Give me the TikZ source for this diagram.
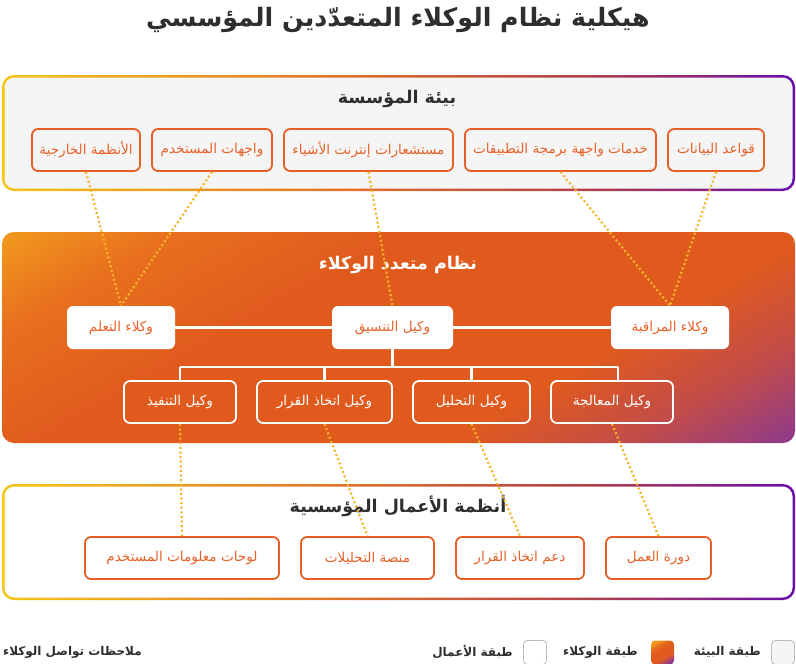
\documentclass[tikz,border=0pt]{standalone}
\usepackage{fontspec}
\newfontfamily\arabicfont[Script=Arabic]{DejaVu Sans}
\TeXXeTstate=1
\usetikzlibrary{calc}
\definecolor{ttl}{HTML}{2E2E2E}
\definecolor{org}{HTML}{E8622A}
\definecolor{bord}{HTML}{E85F26}
\definecolor{dotc}{HTML}{F5B52A}
\definecolor{panelbg}{HTML}{F5F5F5}
\definecolor{gyel}{HTML}{F5C518}
\definecolor{gorg}{HTML}{E0702A}
\definecolor{gred}{HTML}{B0404A}
\definecolor{gpur}{HTML}{6A0DAD}
\definecolor{ayel}{HTML}{F29A1E}
\definecolor{aorg2}{HTML}{E8701E}
\definecolor{aorg}{HTML}{E05A1E}
\definecolor{ared}{HTML}{C24C48}
\definecolor{apur}{HTML}{8C3A8E}
\definecolor{legbd}{HTML}{BBBBBB}
\pgfdeclarehorizontalshading{bordergrad}{100bp}{color(0bp)=(gyel); color(25bp)=(gyel); color(47bp)=(gorg); color(62bp)=(gred); color(75bp)=(gpur); color(100bp)=(gpur)}
\pgfdeclareverticalshading{agentgrad}{100bp}{color(0bp)=(apur); color(25bp)=(apur); color(32.5bp)=(ared); color(40bp)=(aorg); color(57.5bp)=(aorg); color(67.5bp)=(aorg2); color(75bp)=(ayel); color(100bp)=(ayel)}
\newcommand\artxt[1]{{\arabicfont\beginR #1\endR}}
\newcommand\arbold[1]{{\arabicfont\bfseries\beginR #1\endR}}
\tikzset{
  envbox/.style={draw=bord, line width=1.8pt, rounded corners=6pt, inner sep=0pt, text=org, font=\fontsize{13.6}{16}\selectfont},
  bizbox/.style={envbox, fill=white},
  agtop/.style={fill=white, rounded corners=6pt, inner sep=0pt, text=org, font=\fontsize{13.6}{16}\selectfont},
  agbot/.style={draw=white, line width=1.8pt, rounded corners=6pt, inner sep=0pt, text=white, font=\fontsize{13.6}{16}\selectfont},
  treeline/.style={draw=white, line width=2.5pt},
  dotline/.style={draw=dotc, line width=2.2pt, line cap=butt, dash pattern=on 2pt off 2.6pt},
  paneltitle/.style={font=\fontsize{17.5}{20}\selectfont, text=ttl, inner sep=0pt},
  legtext/.style={font=\fontsize{12}{14}\selectfont, text=ttl, inner sep=0pt, anchor=east},
  legbox/.style={draw=legbd, line width=0.8pt, rounded corners=4pt},
}
\begin{document}
\begin{tikzpicture}[x=1pt, y=-1pt]
\useasboundingbox (0,0) rectangle (796,664);
\fill[white] (0,0) rectangle (796,664);
% title
\node[font=\fontsize{25.3}{30}\selectfont, text=ttl, inner sep=0pt] (title) at (398,20) {\arbold{هيكلية نظام الوكلاء المتعدّدين المؤسسي}};
% environment panel
\shade[shading=bordergrad, rounded corners=12pt] (2,75) rectangle (795,191);
\fill[panelbg, rounded corners=10pt] (4.5,77.5) rectangle (792.5,188.5);
\node[paneltitle] (envtitle) at (397,99) {\arbold{بيئة المؤسسة}};
% agent panel
\begin{scope}
\clip[rounded corners=12pt] (2,232) rectangle (795,443);
\begin{scope}[transform canvas={shift={(398.5,337.5)}, rotate=30}]
\shade[shading=agentgrad] (-460,-290) rectangle (460,290);
\end{scope}
\end{scope}
\node[paneltitle, text=white] (agtitle) at (398,265) {\arbold{نظام متعدد الوكلاء}};
% business panel
\shade[shading=bordergrad, rounded corners=12pt] (2,484) rectangle (795,600);
\fill[white, rounded corners=10pt] (4.5,486.5) rectangle (792.5,597.5);
\node[paneltitle] (biztitle) at (398,506) {\arbold{أنظمة الأعمال المؤسسية}};
% environment boxes
\node[envbox, minimum width=96, minimum height=42] (db) at (716,150) {\artxt{قواعد البيانات}};
\node[envbox, minimum width=191, minimum height=42] (api) at (560.5,150) {\artxt{خدمات واجهة برمجة التطبيقات}};
\node[envbox, minimum width=169, minimum height=42] (iot) at (368.5,150) {\artxt{مستشعارات إنترنت الأشياء}};
\node[envbox, minimum width=120, minimum height=42] (ui) at (212,150) {\artxt{واجهات المستخدم}};
\node[envbox, minimum width=108, minimum height=42] (ext) at (86,150) {\artxt{الأنظمة الخارجية}};
% agent boxes
\node[agtop, minimum width=108, minimum height=43] (learn) at (121,327.5) {\artxt{وكلاء التعلم}};
\node[agtop, minimum width=121, minimum height=43] (coord) at (392.5,327.5) {\artxt{وكيل التنسيق}};
\node[agtop, minimum width=118, minimum height=43] (mon) at (670,327.5) {\artxt{وكلاء المراقبة}};
\node[agbot, minimum width=112, minimum height=42] (exec) at (180,402) {\artxt{وكيل التنفيذ}};
\node[agbot, minimum width=135, minimum height=42] (dec) at (324.5,402) {\artxt{وكيل اتخاذ القرار}};
\node[agbot, minimum width=117, minimum height=42] (anal) at (471.5,402) {\artxt{وكيل التحليل}};
\node[agbot, minimum width=122, minimum height=42] (proc) at (612,402) {\artxt{وكيل المعالجة}};
% business boxes
\node[bizbox, minimum width=105, minimum height=42] (cycle) at (658.5,558) {\artxt{دورة العمل}};
\node[bizbox, minimum width=128, minimum height=42] (dsup) at (520,558) {\artxt{دعم اتخاذ القرار}};
\node[bizbox, minimum width=133, minimum height=42] (aplat) at (367.5,558) {\artxt{منصة التحليلات}};
\node[bizbox, minimum width=194, minimum height=42] (dash) at (182,558) {\artxt{لوحات معلومات المستخدم}};
% tree connectors
\coordinate (bus) at (0,367);
\draw[treeline] (learn.east) -- (coord.west);
\draw[treeline] (coord.east) -- (mon.west);
\draw[treeline] (coord.south) -- (coord.south |- bus);
\draw[treeline] (exec.north |- bus) -- ([xshift=6pt]proc.north |- bus);
\draw[treeline] (exec.north |- bus) -- (exec.north);
\draw[treeline] (dec.north |- bus) -- (dec.north);
\draw[treeline] (anal.north |- bus) -- (anal.north);
\draw[treeline] ([xshift=6pt]proc.north |- bus) -- ([xshift=6pt]proc.north);
% dotted communication lines
\draw[dotline] (ext.south) -- (learn.north);
\draw[dotline] (ui.south) -- (learn.north);
\draw[dotline] (iot.south) -- (coord.north);
\draw[dotline] (api.south) -- (mon.north);
\draw[dotline] (db.south) -- (mon.north);
\draw[dotline] (exec.south) -- (dash.north);
\draw[dotline] (dec.south) -- (aplat.north);
\draw[dotline] (anal.south) -- (dsup.north);
\draw[dotline] (proc.south) -- (cycle.north);
% legend
\draw[legbox, fill=panelbg] (771.5,640.5) rectangle (794.5,664.5);
\node[legtext] (leg1t) at (761,652) {\arbold{طبقة البيئة}};
\shade[shading=agentgrad, shading angle=30, rounded corners=4pt] (651,640.5) rectangle (674,664.5);
\node[legtext] (leg2t) at (638,652) {\arbold{طبقة الوكلاء}};
\draw[legbox, fill=white] (523.5,640.5) rectangle (546.5,664.5);
\node[legtext] (leg3t) at (513,652) {\arbold{طبقة الأعمال}};
\node[legtext] (notes) at (142,652) {\arbold{ملاحظات تواصل الوكلاء}};
\end{tikzpicture}
\end{document}
